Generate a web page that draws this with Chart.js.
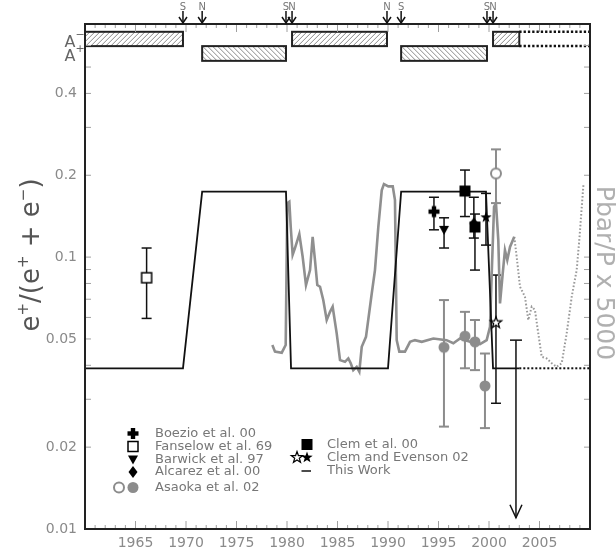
<!DOCTYPE html>
<html>
<head>
<meta charset="utf-8">
<script src="https://cdn.jsdelivr.net/npm/chart.js@4/dist/chart.umd.min.js"></script>
<style>
  html, body { margin: 0; padding: 0; background: #fff; }
</style>
</head>
<body>
<canvas id="ratioChart" width="616" height="556"></canvas>
<script>
// axis ranges and ticks
const xMin = 1960, xMax = 2010;
const yMin = 0.01, yMax = 0.72;
const yTickValues = [0.01, 0.02, 0.03, 0.04, 0.05, 0.06, 0.07, 0.08, 0.09, 0.1, 0.2, 0.3, 0.4, 0.5, 0.6];
const yTickLabels = [0.01, 0.02, 0.05, 0.1, 0.2, 0.4];

// solar magnetic polarity epochs (top strip)
const polarityFrom = [1960, 1971.6, 1980.5, 1991.3, 2000.4];
const polarityTo = [1969.7, 1979.9, 1989.9, 1999.8, 2003.0];
const polarityState = ['A-', 'A+', 'A-', 'A+', 'A-'];
const polarityNext = [2003.0, 2010];
const polarityBands = { 'A-': [0.597, 0.674], 'A+': [0.527, 0.597] };
const reversalYears = [1969.7, 1971.6, 1979.9, 1980.5, 1989.9, 1991.3, 1999.8, 2000.4];
const reversalPoles = ['S', 'N', 'S', 'N', 'N', 'S', 'S', 'N'];

// "This Work" model curve
const modelYears = [1960, 1969.7, 1971.6, 1979.9, 1980.4, 1990.0, 1991.3, 1999.7, 2000.4, 2003.0];
const modelRatio = [0.039, 0.039, 0.174, 0.174, 0.039, 0.039, 0.174, 0.174, 0.039, 0.039];
const modelNextYears = [2003.0, 2010];
const modelNextRatio = [0.039, 0.039];

// antiproton/proton ratio x 5000
const pbarYears = [
  1978.55, 1978.81, 1979.48, 1979.87, 1980.03, 1980.23, 1980.37, 1980.56, 1980.79, 1981.22,
  1981.55, 1981.88, 1982.28, 1982.54, 1982.77, 1983.00, 1983.27, 1983.59, 1983.93, 1984.26,
  1984.52, 1984.92, 1985.25, 1985.74, 1986.07, 1986.31, 1986.56, 1986.90, 1987.16, 1987.40,
  1987.82, 1988.39, 1988.71, 1989.04, 1989.38, 1989.60, 1990.03, 1990.47, 1990.69, 1990.86,
  1991.12, 1991.68, 1992.18, 1992.67, 1993.34, 1994.49, 1995.80, 1996.47, 1997.13, 1998.12,
  1999.11, 1999.77, 2000.10, 2000.27, 2000.50, 2000.69, 2000.92, 2001.09, 2001.36, 2001.58,
  2001.81, 2002.08, 2002.50
];
const pbarRatio = [
  0.0475, 0.0449, 0.0445, 0.0475, 0.158, 0.160, 0.129, 0.102, 0.108, 0.1215,
  0.1003, 0.0789, 0.0896, 0.1187, 0.0975, 0.0789, 0.0778, 0.0695, 0.0587, 0.0629,
  0.0657, 0.0524, 0.0418, 0.0412, 0.0424, 0.0407, 0.0384, 0.0395, 0.0379, 0.0468,
  0.0509, 0.0735, 0.0896, 0.129, 0.176, 0.1855, 0.182, 0.182, 0.162, 0.0495,
  0.0449, 0.0449, 0.0488, 0.0495, 0.0488, 0.0502, 0.0495, 0.0482, 0.0502, 0.0488,
  0.0479, 0.0495, 0.0554, 0.0871, 0.153, 0.158, 0.1155, 0.0676, 0.0871, 0.106,
  0.0975, 0.109, 0.1187
];
const pbarNextYears = [
  2002.50, 2002.74, 2003.07, 2003.56, 2003.89, 2004.23, 2004.55, 2004.88, 2005.22,
  2005.71, 2006.21, 2006.70, 2007.20, 2007.69, 2008.19, 2008.68, 2008.94, 2009.35
];
const pbarNextRatio = [
  0.1187, 0.1003, 0.0778, 0.0715, 0.0587, 0.0657, 0.0639, 0.0524, 0.043,
  0.0424, 0.0407, 0.0395, 0.0407, 0.0524, 0.0715, 0.0896, 0.1155, 0.185
];

// measurements: year, value, error low, error high
const boezioYear = [1994.55], boezioVal = [0.147], boezioLo = [0.126], boezioHi = [0.166];
const fanselowYear = [1966.1], fanselowVal = [0.084], fanselowLo = [0.0595], fanselowHi = [0.108];
const barwickYear = [1995.55], barwickVal = [0.126], barwickLo = [0.108], barwickHi = [0.1395];
const alcarezYear = [1998.5], alcarezVal = [0.133], alcarezLo = [0.1175], alcarezHi = [0.166];
const clemYear = [1997.62, 1998.61], clemVal = [0.175, 0.129], clemLo = [0.141, 0.0896], clemHi = [0.209, 0.144];
const clemEvOpenYear = [2000.69], clemEvOpenVal = [0.0574], clemEvOpenLo = [0.029], clemEvOpenHi = [0.0859];
const clemEvYear = [1999.7], clemEvVal = [0.140], clemEvLo = [0.1107], clemEvHi = [0.1715];
const asaokaOpenYear = [2000.69], asaokaOpenVal = [0.203], asaokaOpenLo = [0.158], asaokaOpenHi = [0.249];
const asaokaYear = [1995.54, 1997.62, 1998.61, 1999.6];
const asaokaVal = [0.0466, 0.0512, 0.0488, 0.0336];
const asaokaLo = [0.0238, 0.039, 0.0384, 0.0235];
const asaokaHi = [0.0695, 0.0629, 0.0587, 0.0442];
const limitYear = [2002.67], limitFrom = [0.0495], limitTo = [0.011];

const legendLeftLabels = ['Boezio et al. 00', 'Fanselow et al. 69', 'Barwick et al. 97', 'Alcarez et al. 00', 'Asaoka et al. 02'];
const legendRightLabels = ['Clem et al. 00', 'Clem and Evenson 02', 'This Work'];

const GRAY = '#8c8c8c';
const FONT = "'DejaVu Sans', sans-serif";
Chart.defaults.font.family = FONT;

function drawMarker(ctx, kind, cx, cy) {
  ctx.save();
  ctx.translate(cx, cy);
  switch (kind) {
    case 'cross':
      ctx.fillStyle = '#000';
      ctx.fillRect(-5.5, -2.2, 11, 4.4);
      ctx.fillRect(-2.2, -5.5, 4.4, 11);
      break;
    case 'openSquare':
      ctx.fillStyle = '#fff';
      ctx.fillRect(-5, -5, 10, 10);
      ctx.strokeStyle = '#000';
      ctx.lineWidth = 1.5;
      ctx.strokeRect(-5, -5, 10, 10);
      break;
    case 'filledSquare':
      ctx.fillStyle = '#000';
      ctx.fillRect(-5.5, -5.5, 11, 11);
      break;
    case 'triangleDown':
      ctx.fillStyle = '#000';
      ctx.beginPath();
      ctx.moveTo(-5, -4); ctx.lineTo(5, -4); ctx.lineTo(0, 5);
      ctx.closePath();
      ctx.fill();
      break;
    case 'diamond':
      ctx.fillStyle = '#000';
      ctx.beginPath();
      ctx.moveTo(0, -6); ctx.lineTo(4.5, 0); ctx.lineTo(0, 6); ctx.lineTo(-4.5, 0);
      ctx.closePath();
      ctx.fill();
      break;
    case 'openStar':
    case 'filledStar':
      ctx.beginPath();
      for (let i = 0; i < 10; i++) {
        const r = i % 2 ? 2.4 : 6;
        const a = -Math.PI / 2 + i * Math.PI / 5;
        ctx.lineTo(r * Math.cos(a), r * Math.sin(a));
      }
      ctx.closePath();
      if (kind === 'filledStar') {
        ctx.fillStyle = '#000';
        ctx.fill();
      } else {
        ctx.fillStyle = '#fff';
        ctx.fill();
        ctx.strokeStyle = '#000';
        ctx.lineWidth = 1.2;
        ctx.stroke();
      }
      break;
    case 'openCircle':
      ctx.beginPath();
      ctx.arc(0, 0, 5, 0, Math.PI * 2);
      ctx.fillStyle = '#fff';
      ctx.fill();
      ctx.strokeStyle = GRAY;
      ctx.lineWidth = 2;
      ctx.stroke();
      break;
    case 'filledCircle':
      ctx.beginPath();
      ctx.arc(0, 0, 5.5, 0, Math.PI * 2);
      ctx.fillStyle = GRAY;
      ctx.fill();
      break;
  }
  ctx.restore();
}

function makeMarker(kind) {
  const c = document.createElement('canvas');
  c.width = 16;
  c.height = 16;
  drawMarker(c.getContext('2d'), kind, 8, 8);
  return c;
}

function pointSet(label, kind, years, vals, lo, hi, errColor, errWidth) {
  return {
    type: 'scatter',
    label: label,
    data: years.map((x, i) => ({ x: x, y: vals[i] })),
    pointStyle: makeMarker(kind),
    pointRadius: 6,
    pointHoverRadius: 6,
    errLo: lo,
    errHi: hi,
    errColor: errColor,
    errWidth: errWidth,
  };
}

function lineSet(label, years, vals, color, width, dash) {
  return {
    type: 'line',
    label: label,
    data: years.map((x, i) => ({ x: x, y: vals[i] })),
    borderColor: color,
    borderWidth: width,
    borderDash: dash || [],
    pointRadius: 0,
    tension: 0,
    fill: false,
  };
}

function seg(ctx, x1, y1, x2, y2) {
  ctx.beginPath();
  ctx.moveTo(x1, y1);
  ctx.lineTo(x2, y2);
  ctx.stroke();
}

function hatchBox(ctx, l, t, w, h, dir) {
  ctx.save();
  ctx.fillStyle = '#fff';
  ctx.fillRect(l, t, w, h);
  ctx.beginPath();
  ctx.rect(l, t, w, h);
  ctx.clip();
  ctx.strokeStyle = '#8a8a8a';
  ctx.lineWidth = 1;
  ctx.beginPath();
  for (let s = -h; s < w + h; s += 5) {
    if (dir > 0) {
      ctx.moveTo(l + s, t + h);
      ctx.lineTo(l + s + h, t);
    } else {
      ctx.moveTo(l + s, t);
      ctx.lineTo(l + s + h, t + h);
    }
  }
  ctx.stroke();
  ctx.restore();
  ctx.strokeStyle = '#222';
  ctx.lineWidth = 2;
  ctx.strokeRect(l, t, w, h);
}

function drawRich(ctx, parts, x, y, size, supSize, rise) {
  let total = 0;
  parts.forEach(([t, sup]) => {
    ctx.font = (sup ? supSize : size) + 'px ' + FONT;
    total += ctx.measureText(t).width;
  });
  let cx = x - total / 2;
  ctx.textAlign = 'left';
  ctx.textBaseline = 'alphabetic';
  parts.forEach(([t, sup]) => {
    ctx.font = (sup ? supSize : size) + 'px ' + FONT;
    ctx.fillText(t, cx, sup ? y - rise : y);
    cx += ctx.measureText(t).width;
  });
}

// error bars sit under the markers
const errorBars = {
  id: 'errorBars',
  beforeDatasetsDraw(chart) {
    const { ctx, scales: { x, y } } = chart;
    chart.data.datasets.forEach((ds) => {
      if (!ds.errLo) return;
      ctx.save();
      ctx.strokeStyle = ds.errColor;
      ctx.lineWidth = ds.errWidth;
      ds.data.forEach((p, j) => {
        const px = x.getPixelForValue(p.x);
        const yLo = y.getPixelForValue(ds.errLo[j]);
        const yHi = y.getPixelForValue(ds.errHi[j]);
        seg(ctx, px, yHi, px, yLo);
        seg(ctx, px - 5, yHi, px + 5, yHi);
        seg(ctx, px - 5, yLo, px + 5, yLo);
      });
      ctx.restore();
    });
  },
};

// polarity strip, upper limit arrow, frame, ticks, titles and legend
const decorations = {
  id: 'decorations',
  afterDatasetsDraw(chart) {
    const { ctx, scales: { x, y } } = chart;
    ctx.save();

    // upper limit
    limitYear.forEach((yr, i) => {
      const px = x.getPixelForValue(yr);
      const yTop = y.getPixelForValue(limitFrom[i]);
      const yEnd = y.getPixelForValue(limitTo[i]);
      ctx.strokeStyle = '#111';
      ctx.lineWidth = 1.5;
      seg(ctx, px - 6, yTop, px + 6, yTop);
      ctx.beginPath();
      ctx.moveTo(px - 6, yEnd - 13);
      ctx.lineTo(px, yEnd);
      ctx.lineTo(px + 6, yEnd - 13);
      ctx.stroke();
    });

    // polarity boxes
    polarityFrom.forEach((from, i) => {
      const band = polarityBands[polarityState[i]];
      const l = x.getPixelForValue(from);
      const r = x.getPixelForValue(polarityTo[i]);
      const t = y.getPixelForValue(band[1]);
      const b = y.getPixelForValue(band[0]);
      hatchBox(ctx, l, t, r - l, b - t, polarityState[i] === 'A-' ? 1 : -1);
    });
    const nb = polarityBands['A-'];
    ctx.strokeStyle = '#111';
    ctx.lineWidth = 2.5;
    ctx.setLineDash([2.3, 2]);
    [nb[1], nb[0]].forEach((v) => {
      const py = y.getPixelForValue(v);
      seg(ctx, x.getPixelForValue(polarityNext[0]), py, x.getPixelForValue(polarityNext[1]), py);
    });
    ctx.setLineDash([]);
    ctx.restore();
  },
  afterDraw(chart) {
    const { ctx, chartArea: a, scales: { x, y } } = chart;
    ctx.save();

    // inward ticks
    ctx.strokeStyle = '#a0a0a0';
    ctx.lineWidth = 1;
    for (let yr = xMin; yr <= xMax; yr++) {
      const px = x.getPixelForValue(yr);
      const len = yr % 5 === 0 ? 8 : 4;
      seg(ctx, px, a.bottom, px, a.bottom - len);
      seg(ctx, px, a.top, px, a.top + len);
    }
    y.ticks.forEach((t) => {
      const py = y.getPixelForValue(t.value);
      seg(ctx, a.left, py, a.left + 6, py);
      seg(ctx, a.right, py, a.right - 6, py);
    });

    // frame
    ctx.strokeStyle = '#222';
    ctx.lineWidth = 2;
    ctx.strokeRect(a.left, a.top, a.right - a.left, a.bottom - a.top);

    // field reversal arrows
    reversalYears.forEach((yr, i) => {
      const px = x.getPixelForValue(yr);
      ctx.strokeStyle = '#111';
      ctx.lineWidth = 1.5;
      seg(ctx, px, a.top - 13, px, a.top - 1);
      ctx.beginPath();
      ctx.moveTo(px - 4, a.top - 7);
      ctx.lineTo(px, a.top - 1);
      ctx.lineTo(px + 4, a.top - 7);
      ctx.stroke();
      ctx.fillStyle = '#777';
      ctx.font = '10px ' + FONT;
      ctx.textAlign = 'center';
      ctx.textBaseline = 'middle';
      ctx.fillText(reversalPoles[i], px, a.top - 17);
    });

    // A- / A+ labels
    ctx.fillStyle = '#666';
    ['A-', 'A+'].forEach((state) => {
      const band = polarityBands[state];
      const base = y.getPixelForValue(band[0]) + 0.5;
      ctx.font = '16px ' + FONT;
      ctx.textAlign = 'center';
      ctx.textBaseline = 'alphabetic';
      ctx.fillText('A', 70, base);
      ctx.font = '11px ' + FONT;
      ctx.fillText(state === 'A-' ? '\u2212' : '+', 80, base - 9);
    });

    // axis titles
    ctx.save();
    ctx.fillStyle = '#555';
    ctx.translate(39, 255);
    ctx.rotate(-Math.PI / 2);
    drawRich(ctx, [['e', 0], ['+', 1], ['/(e', 0], ['+', 1], [' + e', 0], ['\u2212', 1], [')', 0]], 0, 0, 26, 15, 11);
    ctx.restore();

    ctx.save();
    ctx.fillStyle = '#b0b0b0';
    ctx.translate(597, 273);
    ctx.rotate(Math.PI / 2);
    ctx.font = '25px ' + FONT;
    ctx.textAlign = 'center';
    ctx.textBaseline = 'alphabetic';
    ctx.fillText('Pbar/P x 5000', 0, 0);
    ctx.restore();

    // legend
    const leftKinds = [['cross'], ['openSquare'], ['triangleDown'], ['diamond'], ['openCircle', 'filledCircle']];
    const leftRows = [433.5, 446.5, 459.5, 472, 487.5];
    const rightRows = [444.5, 457.5, 471];
    ctx.font = '13px ' + FONT;
    ctx.textAlign = 'left';
    ctx.textBaseline = 'middle';
    legendLeftLabels.forEach((lbl, i) => {
      const kinds = leftKinds[i];
      kinds.forEach((k, j) => drawMarker(ctx, k, 133 - (kinds.length - 1 - j) * 14, leftRows[i]));
      ctx.fillStyle = '#777';
      ctx.fillText(lbl, 155, leftRows[i]);
    });
    drawMarker(ctx, 'filledSquare', 307, rightRows[0]);
    drawMarker(ctx, 'openStar', 297, rightRows[1]);
    drawMarker(ctx, 'filledStar', 307, rightRows[1]);
    ctx.strokeStyle = '#111';
    ctx.lineWidth = 1.5;
    seg(ctx, 301.5, rightRows[2], 311, rightRows[2]);
    ctx.fillStyle = '#777';
    legendRightLabels.forEach((lbl, i) => ctx.fillText(lbl, 327, rightRows[i]));

    ctx.restore();
  },
};

const datasets = [
  pointSet('Asaoka et al. 02', 'filledCircle', asaokaYear, asaokaVal, asaokaLo, asaokaHi, GRAY, 2),
  pointSet('Asaoka et al. 02 (open)', 'openCircle', asaokaOpenYear, asaokaOpenVal, asaokaOpenLo, asaokaOpenHi, GRAY, 2),
  pointSet('Clem and Evenson 02 (open)', 'openStar', clemEvOpenYear, clemEvOpenVal, clemEvOpenLo, clemEvOpenHi, '#111', 1.5),
  pointSet('Clem and Evenson 02', 'filledStar', clemEvYear, clemEvVal, clemEvLo, clemEvHi, '#111', 1.5),
  pointSet('Clem et al. 00', 'filledSquare', clemYear, clemVal, clemLo, clemHi, '#111', 1.5),
  pointSet('Alcarez et al. 00', 'diamond', alcarezYear, alcarezVal, alcarezLo, alcarezHi, '#111', 1.5),
  pointSet('Barwick et al. 97', 'triangleDown', barwickYear, barwickVal, barwickLo, barwickHi, '#111', 1.5),
  pointSet('Boezio et al. 00', 'cross', boezioYear, boezioVal, boezioLo, boezioHi, '#111', 1.5),
  pointSet('Fanselow et al. 69', 'openSquare', fanselowYear, fanselowVal, fanselowLo, fanselowHi, '#111', 1.5),
  lineSet('Upper limit', [limitYear[0], limitYear[0]], [limitFrom[0], limitTo[0]], '#111', 1.5),
  lineSet('This Work', modelYears, modelRatio, '#111', 1.8),
  lineSet('This Work (projected)', modelNextYears, modelNextRatio, '#111', 2, [2, 2]),
  lineSet('Pbar/P x 5000', pbarYears, pbarRatio, '#8f8f8f', 2.6),
  lineSet('Pbar/P x 5000 (projected)', pbarNextYears, pbarNextRatio, '#999', 2, [1.6, 2]),
];

new Chart(document.getElementById('ratioChart'), {
  type: 'scatter',
  data: { datasets: datasets },
  options: {
    responsive: false,
    animation: false,
    devicePixelRatio: 1,
    layout: { padding: { top: 24, right: 26, left: 0, bottom: 0 } },
    plugins: { legend: { display: false }, tooltip: { enabled: false } },
    scales: {
      x: {
        type: 'linear',
        min: xMin,
        max: xMax,
        grid: { display: false, drawTicks: false },
        border: { display: false },
        ticks: {
          stepSize: 5,
          padding: 6,
          color: '#8a8a8a',
          font: { size: 14 },
          maxRotation: 0,
          autoSkip: false,
          callback: (v) => (v > xMin && v < xMax ? String(v) : ''),
        },
        afterFit: (s) => { s.height = 27; },
      },
      y: {
        type: 'logarithmic',
        min: yMin,
        max: yMax,
        grid: { display: false, drawTicks: false },
        border: { display: false },
        afterBuildTicks: (s) => { s.ticks = yTickValues.map((v) => ({ value: v })); },
        ticks: {
          padding: 8,
          color: '#8a8a8a',
          font: { size: 14 },
          autoSkip: false,
          callback: (v) => (yTickLabels.includes(v) ? String(v) : ''),
        },
        afterFit: (s) => { s.width = 85; },
      },
    },
  },
  plugins: [errorBars, decorations],
});
</script>
</body>
</html>
